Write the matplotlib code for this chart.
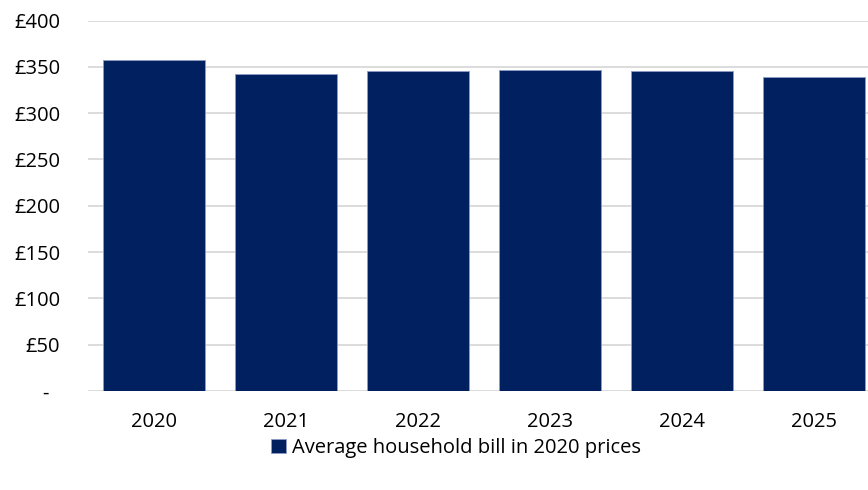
import numpy as np
import matplotlib.pyplot as plt
from matplotlib.ticker import FuncFormatter

years = ['2020', '2021', '2022', '2023', '2024', '2025']
avg_bill = [357, 342, 346, 347, 345, 339]
legend_label = 'Average household bill in 2020 prices'

plt.rcParams['font.family'] = ['Open Sans', 'DejaVu Sans']

fig = plt.figure(figsize=(8.68, 4.9), dpi=100)
ax = fig.add_axes([88 / 868, 1 - 391 / 490, 1 - 88 / 868, (391 - 20.5) / 490])

x = np.arange(len(years))
ax.bar(x, avg_bill, width=0.78, color='#002060', edgecolor='#8f9cc4',
       linewidth=0.6, label=legend_label, zorder=3)

ax.set_ylim(0, 400)
ax.set_yticks(np.arange(0, 401, 50))
ax.yaxis.set_major_formatter(FuncFormatter(lambda v, p: '-  ' if v == 0 else '£%d' % v))
ax.set_xlim(-0.5, 5.5 - 12 / 132)
ax.set_xticks(x)
ax.set_xticklabels(years)

ax.grid(axis='y', color='#d9d9d9', linewidth=1.3, zorder=0)
for s in ['top', 'right', 'left', 'bottom']:
    ax.spines[s].set_visible(False)
ax.tick_params(axis='both', length=0, labelsize=14.5, colors='#000000')
ax.tick_params(axis='y', pad=20)
ax.tick_params(axis='x', pad=15)

fig.legend(loc='center', bbox_to_anchor=(456 / 868, 1 - 448 / 490), frameon=False,
           fontsize=14.5, handlelength=0.7, handleheight=0.7, handletextpad=0.3)

fig.savefig('out.png', dpi=100)
